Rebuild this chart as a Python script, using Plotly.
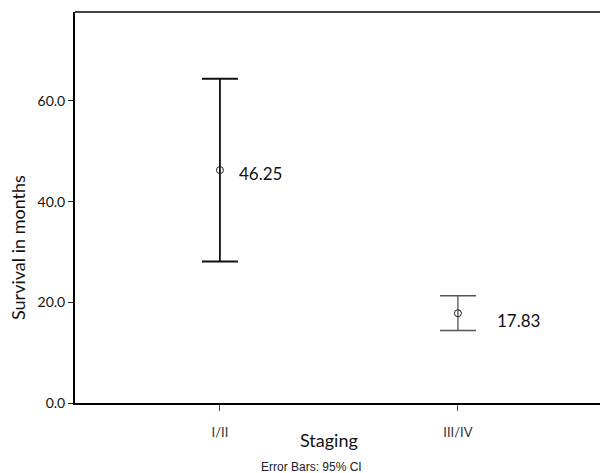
import plotly.graph_objects as go

categories = ["I/II", "III/IV"]
means = [46.25, 17.83]
ci_upper = [64.4, 21.3]
ci_lower = [28.1, 14.4]
mean_labels = ["46.25", "17.83"]
y_ticks = [0, 20, 40, 60]
y_tick_labels = ["0.0", "20.0", "40.0", "60.0"]

# styling (not data)
bar_colors = ["#111111", "#555555"]
bar_widths = [1.8, 1.3]
label_xshift = [17, 37]
label_yshift = [-3, -7]

FONT = "Lato, Open Sans, sans-serif"

fig = go.Figure()
for i, cat in enumerate(categories):
    fig.add_trace(go.Scatter(
        x=[i], y=[means[i]], mode="markers",
        marker=dict(symbol="circle-open", size=7, color="#222222", line=dict(width=1)),
        error_y=dict(type="data", symmetric=False,
                     array=[ci_upper[i] - means[i]],
                     arrayminus=[means[i] - ci_lower[i]],
                     color=bar_colors[i], thickness=bar_widths[i], width=18),
        showlegend=False, hoverinfo="skip",
    ))
    fig.add_annotation(x=i, y=means[i], text=mean_labels[i], showarrow=False,
                       xanchor="left", xshift=label_xshift[i], yshift=label_yshift[i],
                       font=dict(family=FONT, size=17, color="#111111"))

fig.update_layout(
    width=600, height=473,
    margin=dict(l=75, r=0, t=12, b=70),
    paper_bgcolor="white", plot_bgcolor="white",
    xaxis=dict(
        range=[-0.609, 1.597], tickmode="array", tickvals=[0, 1], ticktext=categories,
        showgrid=False, zeroline=False, showline=True, linecolor="black", linewidth=2,
        ticks="outside", ticklen=6, tickwidth=1, tickcolor="#444444",
        ticklabelstandoff=10,
        tickfont=dict(family=FONT, size=13, color="#333333"),
    ),
    yaxis=dict(
        range=[0, 77.66], tickmode="array", tickvals=y_ticks, ticktext=y_tick_labels,
        showgrid=False, zeroline=False, showline=True, linecolor="black", linewidth=2,
        ticks="outside", ticklen=5, tickwidth=1, tickcolor="#222222",
        tickfont=dict(family=FONT, size=14, color="#111111"),
    ),
)

fig.add_shape(type="line", xref="paper", yref="paper", x0=0, x1=1, y0=1, y1=1,
              line=dict(color="#444444", width=2))

H = 391.0
W = 525.0
# axis titles
fig.add_annotation(xref="paper", yref="paper", x=(18 - 75) / W, y=(403 - 248) / H,
                   text="Survival in months", showarrow=False, textangle=-90,
                   xanchor="center", yanchor="middle",
                   font=dict(family=FONT, size=18, color="#111111"))
fig.add_annotation(xref="paper", yref="paper", x=(329 - 75) / W, y=(403 - 440) / H,
                   text="Staging", showarrow=False, xanchor="center", yanchor="middle",
                   font=dict(family=FONT, size=18, color="#111111"))
fig.add_annotation(xref="paper", yref="paper", x=(311 - 75) / W, y=(403 - 467) / H,
                   text="Error Bars: 95% CI", showarrow=False, xanchor="center", yanchor="middle",
                   font=dict(family="Liberation Sans, Arial, sans-serif", size=12, color="#222222"))

fig.write_html("out.html", config={"displayModeBar": False},
               post_script="document.body.style.margin='0';")
